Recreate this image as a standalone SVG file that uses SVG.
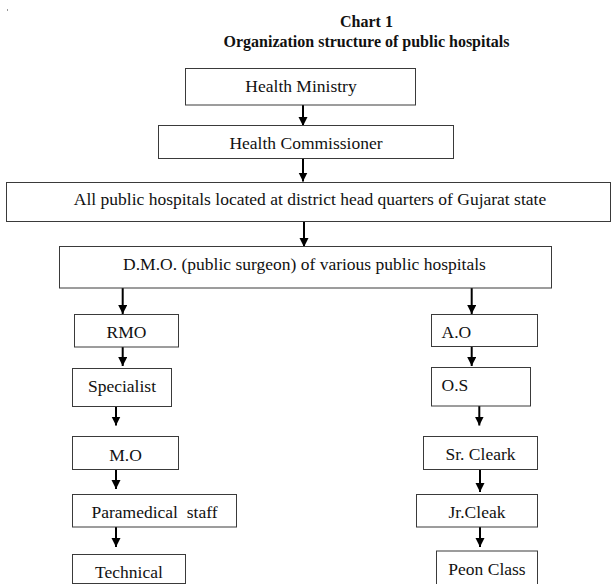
<svg xmlns="http://www.w3.org/2000/svg" width="611" height="584" viewBox="0 0 611 584">
<style>
.bg{fill:#ffffff}
.box{fill:#ffffff;stroke:#3a3a3a;stroke-width:1}
.t{font-family:"Liberation Serif","Times New Roman",serif;font-size:17.5px;fill:#111}
.c{text-anchor:middle}
.title{font-family:"Liberation Serif","Times New Roman",serif;font-size:16px;font-weight:bold;fill:#111;text-anchor:middle}
.arr{stroke:#000;stroke-width:2;fill:none;marker-end:url(#ah)}
</style>
<defs>
<marker id="ah" markerUnits="userSpaceOnUse" markerWidth="10" markerHeight="10" refX="9" refY="4.5" orient="auto">
<path d="M0,0 L9,4.5 L0,9 z" fill="#000"/>
</marker>
</defs>
<rect class="bg" x="0" y="0" width="611" height="584"/>
<rect x="7" y="9" width="1" height="2" fill="#999"/>
<g id="title">
<text class="title" x="366.5" y="26.5">Chart 1</text>
<text class="title" x="366.5" y="46.5">Organization structure of public hospitals</text>
</g>
<g id="connectors">
<line class="arr" x1="303" y1="101.5" x2="303" y2="126"/>
<line class="arr" x1="303" y1="154" x2="303" y2="181.5"/>
<line class="arr" x1="304" y1="216.5" x2="304" y2="247"/>
<line class="arr" x1="122.7" y1="283" x2="122.7" y2="314"/>
<line class="arr" x1="122.7" y1="341.5" x2="122.7" y2="366"/>
<line class="arr" x1="116" y1="402.5" x2="116" y2="425.5"/>
<line class="arr" x1="116" y1="465" x2="116" y2="489"/>
<line class="arr" x1="116" y1="521.5" x2="116" y2="547"/>
<line class="arr" x1="471.7" y1="283" x2="471.7" y2="314"/>
<line class="arr" x1="471.7" y1="342.5" x2="471.7" y2="366"/>
<line class="arr" x1="479.3" y1="402" x2="479.3" y2="425.5"/>
<line class="arr" x1="480" y1="465" x2="480" y2="492"/>
<line class="arr" x1="480" y1="521.5" x2="480" y2="547"/>
</g>
<g id="health-ministry">
<rect class="box" x="185.5" y="68.5" width="230" height="36.5"/>
<text class="t c" x="301" y="91.5">Health Ministry</text>
</g>
<g id="health-commissioner">
<rect class="box" x="158.5" y="125.5" width="295" height="33"/>
<text class="t c" x="306" y="149">Health Commissioner</text>
</g>
<g id="all-hospitals">
<rect class="box" x="6.5" y="182.5" width="604" height="39"/>
<text class="t c" x="310" y="205">All public hospitals located at district head quarters of Gujarat state</text>
</g>
<g id="dmo">
<rect class="box" x="59.5" y="246.5" width="492" height="41.5"/>
<text class="t c" x="304.5" y="270">D.M.O. (public surgeon) of various public hospitals</text>
</g>
<g id="rmo">
<rect class="box" x="74.5" y="314.5" width="104" height="32.5"/>
<text class="t c" x="126.5" y="337.5">RMO</text>
</g>
<g id="specialist">
<rect class="box" x="72.5" y="368.5" width="99" height="38"/>
<text class="t c" x="122" y="391.5">Specialist</text>
</g>
<g id="mo">
<rect class="box" x="72.5" y="436.5" width="106" height="33"/>
<text class="t c" x="125.5" y="461">M.O</text>
</g>
<g id="paramedical">
<rect class="box" x="72.5" y="494.5" width="164" height="32.5"/>
<text class="t c" x="154.5" y="518" xml:space="preserve">Paramedical  staff</text>
</g>
<g id="technical">
<rect class="box" x="72.5" y="554.5" width="113" height="29"/>
<text class="t c" x="129" y="577.5">Technical</text>
</g>
<g id="ao">
<rect class="box" x="431.5" y="314.5" width="106" height="32"/>
<text class="t" x="441.5" y="337.5">A.O</text>
</g>
<g id="os">
<rect class="box" x="431.5" y="367.5" width="99" height="38.5"/>
<text class="t" x="441.5" y="391">O.S</text>
</g>
<g id="sr-cleark">
<rect class="box" x="423.5" y="436.5" width="114" height="33"/>
<text class="t c" x="480.5" y="460">Sr. Cleark</text>
</g>
<g id="jr-cleak">
<rect class="box" x="416.5" y="494.5" width="121" height="32.5"/>
<text class="t c" x="477" y="517.5">Jr.Cleak</text>
</g>
<g id="peon-class">
<rect class="box" x="436.5" y="551" width="101" height="33.5"/>
<text class="t c" x="487" y="575">Peon Class</text>
</g>
</svg>
